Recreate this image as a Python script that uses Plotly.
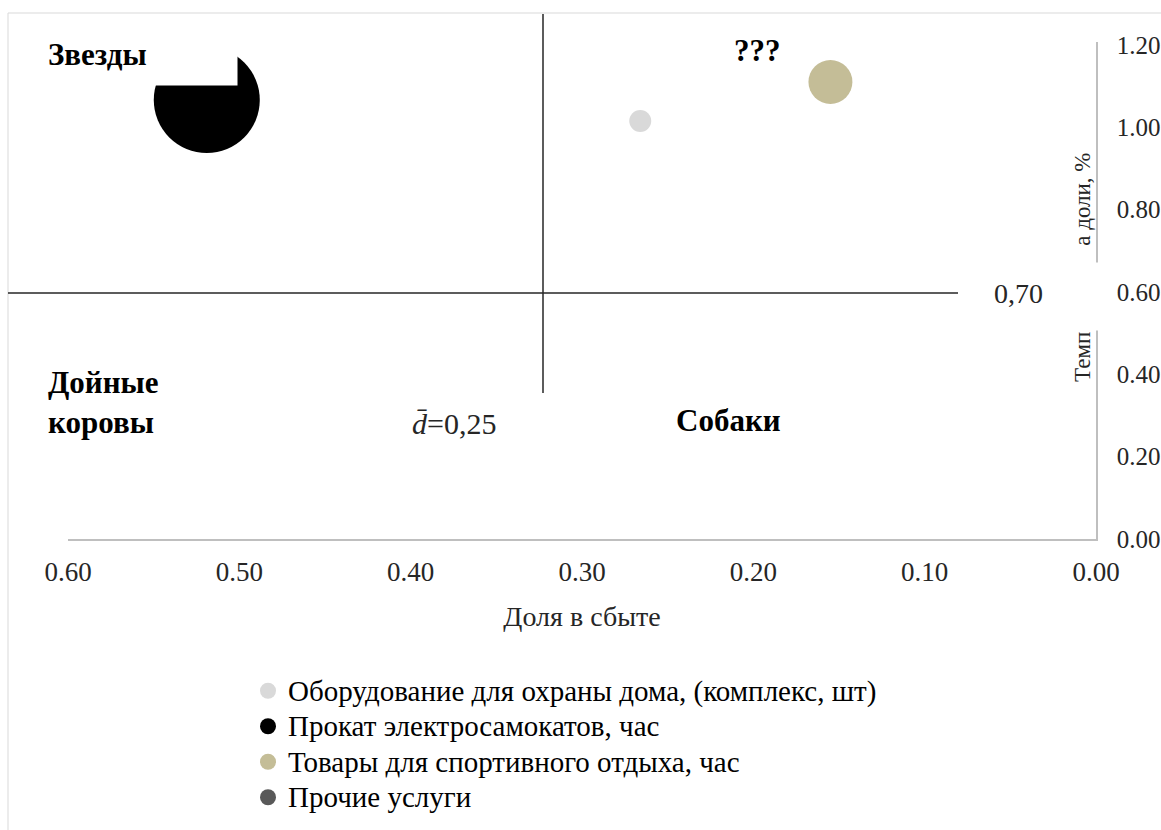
import plotly.graph_objects as go

# BCG-style matrix: market share vs. share growth rate, bubble = revenue weight
series_names = [
    "Оборудование для охраны дома, (комплекс, шт)",
    "Прокат электросамокатов, час",
    "Товары для спортивного отдыха, час",
    "Прочие услуги",
]
share_in_sales = [0.266, 0.519, 0.155, None]     # Доля в сбыте
growth_rate = [1.015, 1.066, 1.110, None]         # Темп прироста доли
bubble_weight = [4.3, 100.0, 17.2, None]          # relative bubble size
series_colors = ["#d9d9d9", "#000000", "#c4bd97", "#595959"]

x_ticks = [0.0, 0.1, 0.2, 0.3, 0.4, 0.5, 0.6]
y_ticks = [0.0, 0.2, 0.4, 0.6, 0.8, 1.0, 1.2]

FONT = "Liberation Serif"
TXT = "#262626"

W, H = 1161, 830
L, R, T, B = 68, 1096, 42, 539  # plot-area edges in pixels


def px(xp):
    return (xp - L) / (R - L)


def py(yp):
    return (B - yp) / (B - T)


MAX_DIAM = 106
max_w = max(v for v in bubble_weight if v is not None)

fig = go.Figure()
for i, name in enumerate(series_names):
    if share_in_sales[i] is None:
        xs, ys, sz = [None], [None], [16]
    else:
        xs, ys = [share_in_sales[i]], [growth_rate[i]]
        sz = [MAX_DIAM * (bubble_weight[i] / max_w) ** 0.5]
    fig.add_trace(go.Scatter(
        x=xs, y=ys, mode="markers",
        name=f'<span style="font-size:29px">{name}</span>',
        legendgroup=f"g{i}",
        marker=dict(size=sz, color=series_colors[i], sizemode="diameter",
                    line=dict(width=0), opacity=1),
        hoverinfo="skip",
    ))

shapes = [
    # outer frame
    dict(type="rect", xref="paper", yref="paper", x0=px(8), x1=px(1175),
         y0=py(13), y1=py(845), line=dict(color="#d9d9d9", width=1), layer="below"),
    # quadrant dividers
    dict(type="line", xref="paper", yref="paper", x0=px(8), x1=px(958),
         y0=py(293), y1=py(293), line=dict(color="#262626", width=1.5)),
    dict(type="line", xref="paper", yref="paper", x0=px(543), x1=px(543),
         y0=py(14), y1=py(393), line=dict(color="#262626", width=1.5)),
]

bold = dict(family=FONT, size=31, color="#000000")
norm = dict(family=FONT, size=28, color=TXT)

annotations = [
    # vertical axis title drawn inside the plot, next to the axis line
    dict(text="Темп прироста доли, %", textangle=-90, xref="paper", yref="paper",
         x=px(1082), y=py(384), xanchor="center", yanchor="bottom",
         showarrow=False, font=dict(family=FONT, size=23, color=TXT)),
    # white text box around the threshold label (also hides part of the title)
    dict(text=" ", xref="paper", yref="paper", x=px(958), y=py(262),
         xanchor="left", yanchor="top", width=140, height=67, borderpad=0,
         bgcolor="#ffffff", showarrow=False),
    dict(text=" ", xref="paper", yref="paper", x=px(1064), y=py(245),
         xanchor="left", yanchor="top", width=30, height=20, borderpad=0,
         bgcolor="#ffffff", showarrow=False),
    dict(text="0,70", xref="paper", yref="paper", x=px(1018), y=py(293),
         xanchor="center", yanchor="middle", showarrow=False, font=norm),
    # white text box with the "Звезды" label
    dict(text=" ", xref="paper", yref="paper", x=px(40), y=py(20),
         xanchor="left", yanchor="top", width=196, height=64, borderpad=0,
         bgcolor="#ffffff", showarrow=False),
    dict(text="<b>Звезды</b>", xref="paper", yref="paper", x=px(46), y=py(55),
         xanchor="left", yanchor="middle", showarrow=False, font=bold),
    dict(text="<b>???</b>", xref="paper", yref="paper", x=px(757), y=py(50),
         xanchor="center", yanchor="middle", showarrow=False, font=bold),
    dict(text="<b>Дойные<br>коровы</b>", xref="paper", yref="paper", x=px(46),
         y=py(402), xanchor="left", yanchor="middle", align="left",
         showarrow=False, font=bold),
    dict(text="<b>Собаки</b>", xref="paper", yref="paper", x=px(728), y=py(420),
         xanchor="center", yanchor="middle", showarrow=False, font=bold),
    dict(text="<i>d\u0304</i>=0,25", xref="paper", yref="paper", x=px(410),
         y=py(423), xanchor="left", yanchor="middle", showarrow=False,
         font=dict(family=FONT, size=30, color=TXT)),
]

fig.update_layout(
    width=W, height=H,
    margin=dict(l=L, r=W - R, t=T, b=H - B, pad=0, autoexpand=False),
    paper_bgcolor="#ffffff", plot_bgcolor="#ffffff",
    font=dict(family=FONT, size=27, color=TXT),
    showlegend=True,
    legend=dict(
        x=px(248), y=py(668), xanchor="left", yanchor="top",
        font=dict(family=FONT, size=25, color="#000000"),
        itemsizing="trace", tracegroupgap=0, bgcolor="rgba(0,0,0,0)",
        traceorder="normal",
    ),
    xaxis=dict(
        range=[0.6, 0.0], tickvals=x_ticks, tickformat=".2f",
        showgrid=False, zeroline=False, showline=True,
        linecolor="#bfbfbf", linewidth=1.5, ticks="",
        ticklabelstandoff=8, automargin=False,
        tickfont=dict(family=FONT, size=27, color=TXT),
        title=dict(text="Доля в сбыте", standoff=20,
                   font=dict(family=FONT, size=28, color=TXT)),
    ),
    yaxis=dict(
        range=[0.0, 1.207], tickvals=y_ticks, tickformat=".2f", side="right",
        showgrid=False, zeroline=False, showline=True, automargin=False,
        linecolor="#bfbfbf", linewidth=1.5, ticks="", ticklabelstandoff=14,
        tickfont=dict(family=FONT, size=25, color=TXT),
    ),
    shapes=shapes,
    annotations=annotations,
)

fig.write_html("out.html")
